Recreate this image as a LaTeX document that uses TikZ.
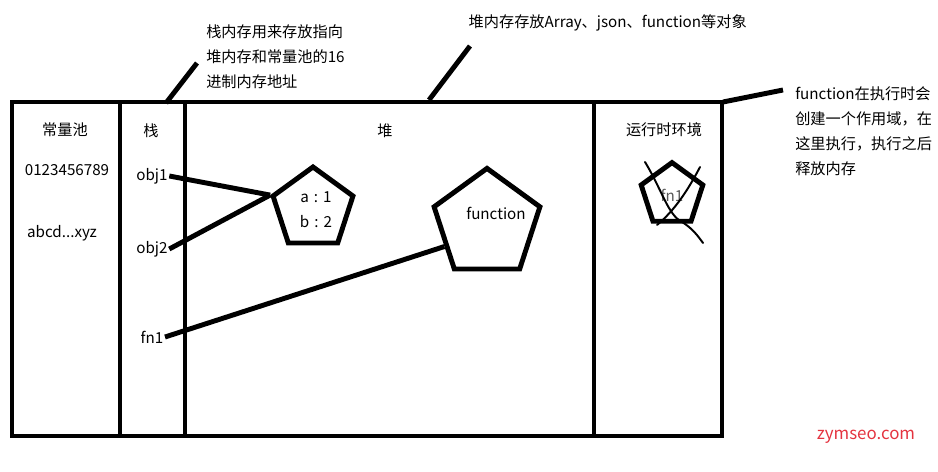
\documentclass[tikz,border=0pt]{standalone}
\usepackage{fontspec}
\setmainfont{Noto Sans CJK SC}
\usetikzlibrary{shapes.geometric,calc}

\begin{document}
\begin{tikzpicture}
	[x=0.025cm, y=-0.025cm,
	every node/.style={inner sep=1pt, font=\fontsize{10.8}{18}\selectfont},
	wall/.style={line width=3.5pt},
	link/.style={line width=3.5pt},
	scribble/.style={line width=1.4pt, line cap=round},
	pent/.style={regular polygon, regular polygon sides=5, draw, line width=3.5pt, inner sep=0pt},
	note/.style={align=left, anchor=north west, inner sep=0pt}]
	\useasboundingbox (0,0) rectangle (938,472);

	% memory box
	\draw[wall] (12,102) rectangle (722,436);
	\draw[wall] (120,102) -- (120,434);
	\draw[wall] (185,102) -- (185,434);
	\draw[wall] (594,102) -- (594,436);

	% column titles
	\node (pool) at (65,130) {常量池};
	\node (digits) at (67,170) {0123456789};
	\node (letters) at (62,233) {abcd...xyz};
	\node (stack) at (151,131) {栈};
	\node (heap) at (385,131) {堆};
	\node (env) at (664,130) {运行时环境};

	% stack entries
	\node (obj1) at (152,176) {obj1};
	\node (obj2) at (152,249) {obj2};
	\node (fn1) at (152,337) {fn1};

	% heap objects
	\node[pent, minimum size=2.1cm] (obj) at (313,209) {};
	\node[align=center] (fields) at (316,210) {a\,\,:\,\,1\\b\,\,:\,\,2};
	\node[pent, minimum size=2.78cm] (fn) at (487,224) {};
	\node (fnbody) at (496,213) {function};

	% runtime
	\node[pent, minimum size=1.62cm] (run) at (672,195) {};
	\node[text=black!65] (runlabel) at (672,195) {fn1};
	\draw[scribble] (645,162) .. controls (662,190) and (668,215) .. (682,222)
		.. controls (692,228) and (698,236) .. (703,243);
	\draw[scribble] (700,167) .. controls (688,190) and (675,210) .. (657,225);

	% references
	\draw[link] (obj1.east) -- (obj.corner 2);
	\draw[link] (obj2.east) -- (obj.corner 2);
	\draw[link] (fn1.east) -- ($(fn.corner 2)!0.62!(fn.corner 3)$);

	% notes
	\coordinate (stackfoot) at (166,103);
	\coordinate (stacktip) at (197,63);
	\coordinate (heapfoot) at (429,100);
	\coordinate (heaptip) at (470,46);
	\coordinate (envfoot) at (723,102);
	\coordinate (envtip) at (783,90);
	\draw[link] (stackfoot) -- (stacktip);
	\draw[link] (heapfoot) -- (heaptip);
	\draw[link] (envfoot) -- (envtip);
	\node[note] (stacknote) at (206,24) {栈内存用来存放指向\\堆内存和常量池的16\\进制内存地址};
	\node[anchor=west] (heapnote) at (467,23) {堆内存存放Array、json、function等对象};
	\node[note] (envnote) at (795,86) {function在执行时会\\创建一个作用域，在\\这里执行，执行之后\\释放内存};

	\node[text={rgb,255:red,228;green,52;blue,64}, font=\fontsize{12}{14}\selectfont] (mark) at (866,437) {zymseo.com};
\end{tikzpicture}
\end{document}
